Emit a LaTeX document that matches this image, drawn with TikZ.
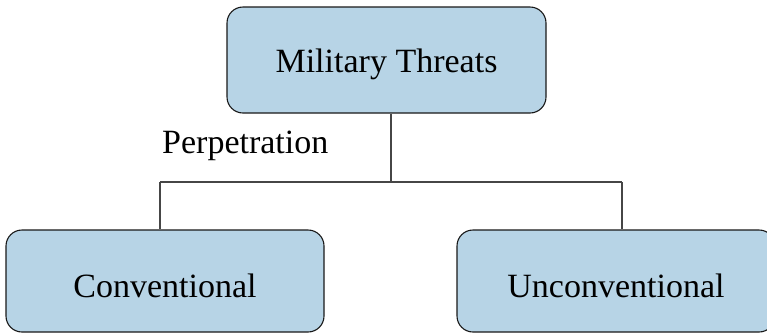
\documentclass[tikz,border=0pt]{standalone}
\usepackage{fontspec}
\setmainfont{Liberation Serif}
\definecolor{boxfill}{RGB}{183,212,230}
\definecolor{boxline}{RGB}{25,25,25}
\definecolor{wire}{RGB}{70,70,70}
\begin{document}
\begin{tikzpicture}[x=1pt,y=1pt,
  box/.style={draw=boxline,fill=boxfill,line width=1.1pt,rounded corners=16pt,
    inner sep=0pt,font=\fontsize{34}{40}\selectfont,text depth=0pt},
  wirestyle/.style={draw=wire,line width=1.3pt}]
\useasboundingbox (0,0) rectangle (767,-333);
\clip (0,0) rectangle (767,-333);
\node[box,minimum width=319pt,minimum height=106pt,text height=24pt] (top) at (386.5,-60) {Military Threats};
\node[box,minimum width=318pt,minimum height=102pt,text height=32pt] (conv) at (165,-281) {Conventional};
\node[box,minimum width=318pt,minimum height=102pt,text height=32pt] (unconv) at (616,-281) {Unconventional};
\coordinate (j) at (391,-182);
\coordinate (jl) at (160,-182);
\coordinate (jr) at (622,-182);
\draw[wirestyle] (top.south -| j) -- (j);
\draw[wirestyle] (jl) -- (jr);
\draw[wirestyle] (jl) -- (jl |- conv.north);
\draw[wirestyle] (jr) -- (jr |- unconv.north);
\node[anchor=base west,inner sep=0pt,font=\fontsize{34}{40}\selectfont] (perp) at (162,-153) {Perpetration};
\end{tikzpicture}
\end{document}
